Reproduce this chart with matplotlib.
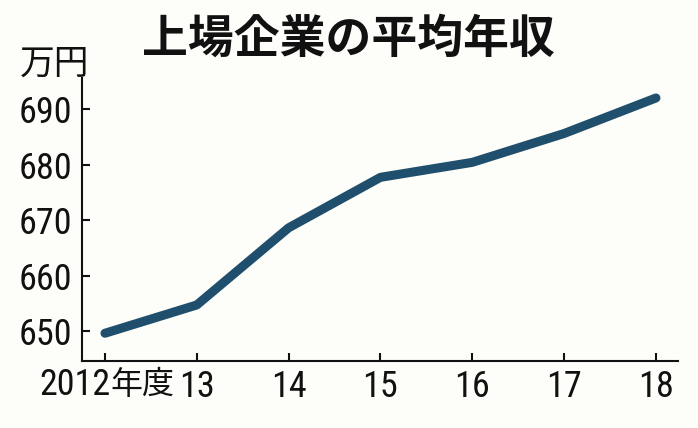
import matplotlib
matplotlib.use('Agg')
import matplotlib.pyplot as plt
from matplotlib.transforms import offset_copy

plt.rcParams['font.family'] = ['Roboto Condensed', 'Noto Sans CJK JP', 'DejaVu Sans']

years = ['2012', '13', '14', '15', '16', '17', '18']
first_suffix = '年度'
salary = [649.6, 654.7, 668.6, 677.7, 680.4, 685.6, 692.0]
yticks = [650, 660, 670, 680, 690]

bg = '#fdfdf9'
fig = plt.figure(figsize=(6.98, 4.28), dpi=100, facecolor=bg)
ax = fig.add_axes([82/698, 67/428, 596/698, 283/428], facecolor=bg)

x = range(len(years))
ax.plot(x, salary, color='#1f4f6c', linewidth=6.5, solid_capstyle='round', solid_joinstyle='round')

ax.set_xlim(-0.25, 6.24)
ax.set_ylim(644.6, 695.6)
ax.set_xticks(list(x))
ax.set_xticklabels([''] + years[1:])
ax.set_yticks(yticks)

for s in ['top', 'right']:
    ax.spines[s].set_visible(False)
for s in ['left', 'bottom']:
    ax.spines[s].set_linewidth(1.5)
    ax.spines[s].set_color('#111111')

ax.tick_params(direction='in', length=6, width=1.5, color='#111111', labelsize=26, labelcolor='#111111')
ax.tick_params(axis='x', pad=6)
ax.tick_params(axis='y', pad=7)

# first x label: "2012" + "年度", centred on the first tick
tr = ax.get_xaxis_transform()
ax.text(x[0], 0, years[0], fontsize=26, color='#111111', ha='right', va='baseline',
        transform=offset_copy(tr, fig, x=4, y=-24.5, units='points'))
ax.text(x[0], 0, first_suffix, fontsize=23, color='#111111', ha='left', va='baseline',
        family=['Noto Sans CJK JP'],
        transform=offset_copy(tr, fig, x=4, y=-23.5, units='points'))

fig.text(20/698, 1 - 74/428, '万円', fontsize=25, color='#111111', family=['Noto Sans CJK JP'], va='baseline')
fig.text(348/698, 1 - 53/428, '上場企業の平均年収', fontsize=33, fontweight='bold', color='#111111',
         family=['Noto Sans CJK JP'], ha='center', va='baseline')

fig.savefig('out.png', dpi=100, facecolor=bg)
